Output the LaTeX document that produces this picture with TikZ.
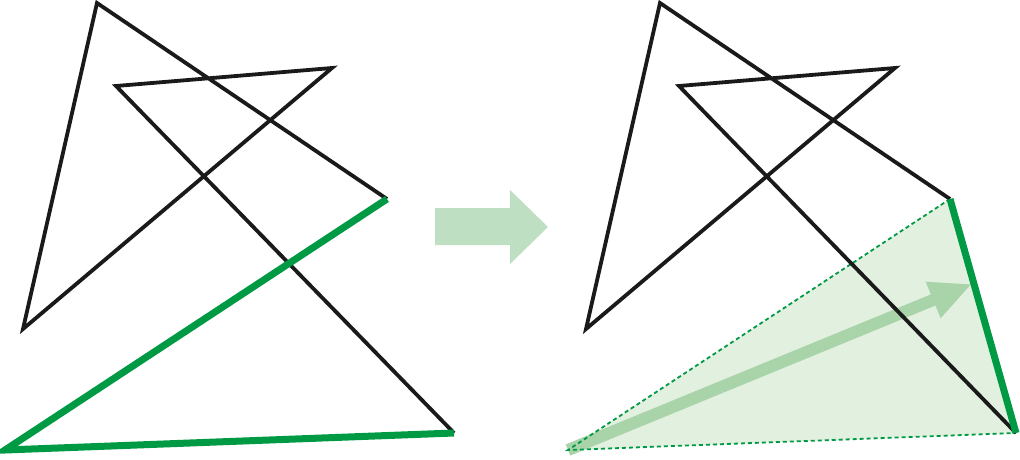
\documentclass[tikz,border=0pt]{standalone}
\usetikzlibrary{arrows.meta}
\definecolor{linek}{HTML}{1A1A1A}
\definecolor{gline}{HTML}{009A44}
\definecolor{gfill}{HTML}{E2F0E0}
\definecolor{garrow}{HTML}{BFDFC3}
\definecolor{garrow2}{HTML}{A9D3A8}
\tikzset{
  blk/.style={draw=linek, line width=3.8pt, line join=miter},
  grn/.style={draw=gline, line width=7pt, line join=miter},
  dsh/.style={draw=gline, line width=1.8pt, dash pattern=on 4pt off 3pt},
}
\begin{document}
\begin{tikzpicture}[x=1pt,y=-1pt]
\useasboundingbox (0,0) rectangle (1020,460);
% left polygon
\coordinate (a1) at (97,3);
\coordinate (a2) at (23,329);
\coordinate (a3) at (332,68);
\coordinate (a4) at (116,86);
\coordinate (a5) at (454,433);
\coordinate (a6) at (5,450);
\coordinate (a7) at (387,199);
% right polygon
\coordinate (b1) at (660,3);
\coordinate (b2) at (586,329);
\coordinate (b3) at (895,68);
\coordinate (b4) at (679,86);
\coordinate (b5) at (1016,433);
\coordinate (b6) at (568,450);
\coordinate (b7) at (950,199);
% left drawing
\draw[blk] (a7) -- (a1) -- (a2) -- (a3) -- (a4) -- (a5);
\draw[grn] (a5) -- (a6) -- (a7);
% middle arrow
\fill[garrow] (435,208) -- (510,208) -- (510,190) -- (548,227) -- (510,264) -- (510,245) -- (435,245) -- cycle;
% right drawing
\fill[gfill] (b7) -- (b6) -- (b5) -- cycle;
\coordinate (t1) at (972,284);
\draw[draw=garrow2, line width=12pt, -{Triangle[length=42pt,width=36pt]}] (b6) -- (t1);
\draw[dsh] (b7) -- (b6) -- (b5);
\draw[blk] (b7) -- (b1) -- (b2) -- (b3) -- (b4) -- (b5);
\draw[grn] (b7) -- (b5);
\end{tikzpicture}
\end{document}
